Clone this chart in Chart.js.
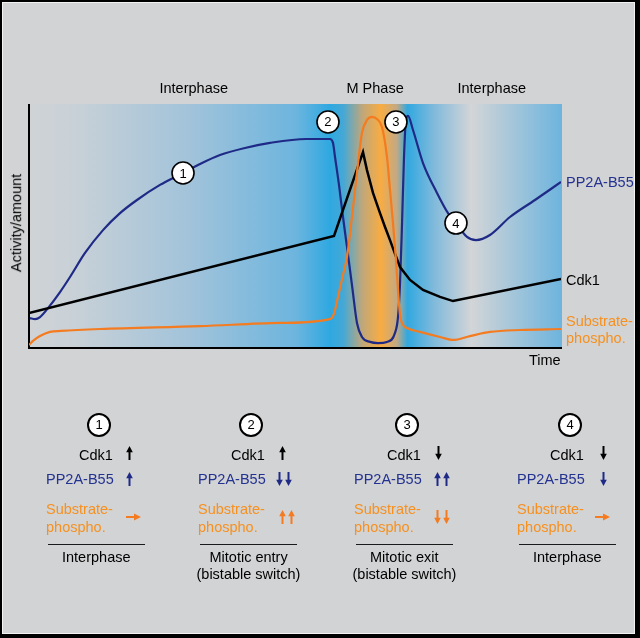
<!DOCTYPE html>
<html><head><meta charset="utf-8">
<script src="https://cdn.jsdelivr.net/npm/chart.js@4"></script>
<style>
html,body{margin:0;padding:0;background:#000;width:640px;height:638px;overflow:hidden;}
#frame{position:absolute;left:2px;top:2px;width:631px;height:630px;border:1px solid #f2f2f2;background:#d2d3d5;}
#c{position:absolute;left:0;top:0;}
.t{position:absolute;font-family:"Liberation Sans",Arial,Helvetica,sans-serif;font-size:14.5px;line-height:16px;white-space:nowrap;color:#000;}
.navy{color:#243290;}
.orange{color:#f7901e;}
.circ{position:absolute;width:20px;height:20px;border:2px solid #000;border-radius:50%;background:#fff;box-sizing:content-box;font-family:"Liberation Sans",Arial,sans-serif;font-size:13px;line-height:20px;text-align:center;color:#000;-webkit-font-smoothing:antialiased;}
.dig{position:absolute;width:22px;height:22px;margin-left:-11px;margin-top:-11px;font-family:"Liberation Sans",Arial,sans-serif;font-size:13px;line-height:22px;text-align:center;color:#000;-webkit-font-smoothing:antialiased;}
.rule{position:absolute;height:0;border-top:1.5px solid #1a1a1a;}
.arr{position:absolute;}
</style>
</head><body>
<div id="frame"></div>
<canvas id="c" width="640" height="638"></canvas>
<div id="labels"></div>
<script>
// ---- data (time 0..100, activity 0..100) ----
const pp2aTime   = [0.19,1.13,2.07,3.57,5.83,7.71,10.53,13.91,17.11,20.30,24.62,28.95,32.14,35.90,40.60,45.30,52.07,56.58,57.14,57.52,58.27,59.02,59.77,60.71,61.65,62.59,64.10,65.60,67.29,68.80,69.36,69.74,70.11,70.49,70.86,71.24,72.18,74.06,76.69,78.76,80.26,82.33,84.02,86.65,90.41,95.11,100];
const pp2aValues = [11.9,11.5,12.3,16.0,22.6,28.8,38.7,48.1,55.1,60.5,66.7,71.6,75.3,79.0,81.9,84.0,85.6,85.6,84.0,78.2,66.7,53.5,41.2,25.5,9.9,4.1,2.1,1.6,2.1,5.8,12.3,26.0,50.0,78.2,93.4,95.1,89.3,75.7,63.4,55.1,51.0,45.3,44.0,46.1,53.5,60.5,67.9];

const cdk1Time   = [0,57.33,62.78,63.53,64.66,65.98,66.92,67.86,68.80,69.74,71.62,74.06,77.26,79.70,100];
const cdk1Values = [14.0,45.7,80.2,72.8,63.4,55.1,49.4,44.0,38.3,32.9,27.6,23.5,20.6,18.9,28.0];

const substrateTime   = [0,0.75,2.07,3.95,6.02,13.35,32.14,47.18,56.58,57.33,58.08,59.02,59.77,60.53,61.28,62.03,62.59,63.53,64.47,65.41,66.35,67.29,67.86,68.42,68.98,69.36,69.74,70.30,71.05,73.50,77.26,79.70,82.89,86.65,92.29,100];
const substrateValues = [0.8,2.5,4.5,6.2,6.6,7.4,8.6,9.9,11.5,13.6,20.6,29.6,37.0,50.2,64.6,79.0,88.1,93.4,94.7,93.8,90.5,78.2,64.6,51.0,35.8,23.5,13.2,9.1,7.8,6.2,4.1,2.9,4.5,6.2,7.0,7.4];

const markerTime   = [28.95,56.20,68.98,80.26];
const markerValues = [71.6,92.6,92.6,51.0];
const markerLabels = ['1','2','3','4'];

const phaseLabels = ['Interphase','M Phase','Interphase'];
const seriesLabels = ['PP2A-B55','Cdk1','Substrate-','phospho.'];
const axisLabels = ['Activity/amount','Time'];

const panelNumbers  = ['1','2','3','4'];
const panelCdk1     = ['up','up','down','down'];
const panelPP2A     = ['up','down2','up2','down'];
const panelSub      = ['right','up2','down2','right'];
const panelCaptions = [['Interphase'],['Mitotic entry','(bistable switch)'],['Mitotic exit','(bistable switch)'],['Interphase']];

const toPts = (xs, ys) => xs.map((x,i)=>({x:x, y:ys[i]}));

const NAVY='#1f2a86', ORANGE='#f47b20';

const bgPlugin = {
  id:'bg',
  beforeDatasetsDraw(chart){
    const {ctx, chartArea:a} = chart;
    const g = ctx.createLinearGradient(a.left, 0, a.right+1, 0);
    const stops = [[0,'#cfd3d6'],[0.08,'#c9d1d7'],[0.30,'#a2c3da'],[0.50,'#6db5de'],[0.565,'#2ea8e1'],[0.59,'#45a8d6'],[0.625,'#bfa77b'],[0.66,'#f8ac43'],[0.69,'#c2a985'],[0.71,'#31a8e0'],[0.76,'#80badb'],[0.83,'#d3d5d7'],[1,'#6db4de']];
    stops.forEach(s=>g.addColorStop(s[0], s[1]));
    ctx.save();
    ctx.fillStyle = g;
    ctx.fillRect(a.left, a.top, a.right - a.left + 1, a.bottom - a.top + 1);
    ctx.strokeStyle = '#000';
    ctx.lineWidth = 2;
    ctx.beginPath();
    ctx.moveTo(a.left, a.top);
    ctx.lineTo(a.left, a.bottom + 1);
    ctx.lineTo(a.right + 1, a.bottom + 1);
    ctx.stroke();
    ctx.restore();
  },
  afterDraw(chart){
    const host = document.getElementById('labels');
    if (host.dataset.done) return;
    host.dataset.done = '1';
    const xs = chart.scales.x, ys = chart.scales.y;
    markerLabels.forEach((lab,i)=>{
      const d = document.createElement('div');
      d.className='dig';
      d.textContent = lab;
      d.style.left = xs.getPixelForValue(markerTime[i])+'px';
      d.style.top = (ys.getPixelForValue(markerValues[i])+0.5)+'px';
      host.appendChild(d);
    });
  }
};

new Chart(document.getElementById('c'), {
  type:'line',
  data:{datasets:[
    {label:'markers', type:'scatter', data:toPts(markerTime, markerValues), pointRadius:11, pointHoverRadius:11,
     pointBackgroundColor:'#fff', pointBorderColor:'#000', pointBorderWidth:1.6, showLine:false, order:0},
    {label:'Cdk1', data:toPts(cdk1Time, cdk1Values), borderColor:'#000', borderWidth:2.5, tension:0, pointRadius:0, order:2},
    {label:'Substrate-phospho.', data:toPts(substrateTime, substrateValues), borderColor:ORANGE, borderWidth:2.2, cubicInterpolationMode:'monotone', pointRadius:0, order:1},
    {label:'PP2A-B55', data:toPts(pp2aTime, pp2aValues), borderColor:NAVY, borderWidth:2.2, cubicInterpolationMode:'monotone', pointRadius:0, order:3}
  ]},
  options:{
    responsive:false, animation:false, events:[],
    layout:{padding:{left:29, top:104, right:79, bottom:291}},
    scales:{x:{type:'linear', min:0, max:100, display:false}, y:{min:0, max:100, display:false}},
    plugins:{legend:{display:false}, tooltip:{enabled:false}}
  },
  plugins:[bgPlugin]
});

// ---- HTML text ----
const host = document.getElementById('labels');
function txt(s, opts){
  const d = document.createElement('div');
  d.className = 't' + (opts.cls ? ' '+opts.cls : '');
  d.textContent = s;
  host.appendChild(d);
  const w = d.offsetWidth;
  let left = opts.left;
  if (opts.center !== undefined) left = opts.center - w/2;
  if (opts.right !== undefined) left = opts.right - w;
  d.style.left = left + 'px';
  d.style.top = (opts.cy - 8) + 'px';
  return d;
}
txt(phaseLabels[0], {center:194, cy:88});
txt(phaseLabels[1], {center:375, cy:88});
txt(phaseLabels[2], {center:492, cy:88});
txt(seriesLabels[0], {left:566, cy:182, cls:'navy'});
txt(seriesLabels[1], {left:566, cy:280});
txt(seriesLabels[2], {left:566, cy:321, cls:'orange'});
txt(seriesLabels[3], {left:566, cy:338, cls:'orange'});
txt(axisLabels[1], {right:561, cy:360});
const yl = txt(axisLabels[0], {center:16, cy:223});
yl.style.transform = 'rotate(-90deg)';

function arrowSVG(dir, color){
  if (dir === 'right'){
    return '<svg width="15" height="8" viewBox="0 0 15 8"><line x1="0" y1="4" x2="9" y2="4" stroke="'+color+'" stroke-width="2"/><polygon points="8,0.5 15,4 8,7.5" fill="'+color+'"/></svg>';
  }
  const up = '<line x1="3.5" y1="14" x2="3.5" y2="5" stroke="'+color+'" stroke-width="2"/><polygon points="0.2,6.2 3.5,0 6.8,6.2" fill="'+color+'"/>';
  const g = dir === 'down' ? '<g transform="rotate(180 3.5 7)">'+up+'</g>' : up;
  return '<svg width="7" height="14" viewBox="0 0 7 14">'+g+'</svg>';
}
function arrow(kind, color, cx, cy){
  const d = document.createElement('div');
  d.className = 'arr';
  let html='', w=7, h=14;
  if (kind==='right'){ html = arrowSVG('right', color); w=15; h=8; }
  else if (kind==='up' || kind==='down'){ html = arrowSVG(kind, color); }
  else {
    const dir = kind.indexOf('down')>=0 ? 'down' : 'up';
    html = '<span style="display:inline-block;margin-right:2px">'+arrowSVG(dir,color)+'</span><span style="display:inline-block">'+arrowSVG(dir,color)+'</span>';
    w=16;
  }
  d.innerHTML = html;
  d.style.left = (cx - w/2)+'px';
  d.style.top = (cy - h/2)+'px';
  d.style.lineHeight='0';
  host.appendChild(d);
}
const colLeft = [48,200,356,519];
colLeft.forEach((L,i)=>{
  const c = document.createElement('div');
  c.className='circ';
  c.textContent = panelNumbers[i];
  c.style.left = (L+51-12)+'px';
  c.style.top = (425-12)+'px';
  host.appendChild(c);
  txt('Cdk1', {right:L+65, cy:455});
  txt('PP2A-B55', {right:L+66, cy:479, cls:'navy'});
  txt('Substrate-', {left:L-2, cy:509, cls:'orange'});
  txt('phospho.', {left:L-2, cy:527, cls:'orange'});
  arrow(panelCdk1[i], '#000', L+[81,82,82,84][i], 453);
  arrow(panelPP2A[i], NAVY, L+[81,84,86,84][i], 479);
  arrow(panelSub[i], ORANGE, L+[85,87,86,83][i], 517);
  const r = document.createElement('div');
  r.className='rule';
  r.style.left = L+'px';
  r.style.top = '543.5px';
  r.style.width = '97px';
  host.appendChild(r);
  panelCaptions[i].forEach((cap,j)=>{
    txt(cap, {center:L+48.5, cy:557+17*j});
  });
});
</script>
</body></html>
